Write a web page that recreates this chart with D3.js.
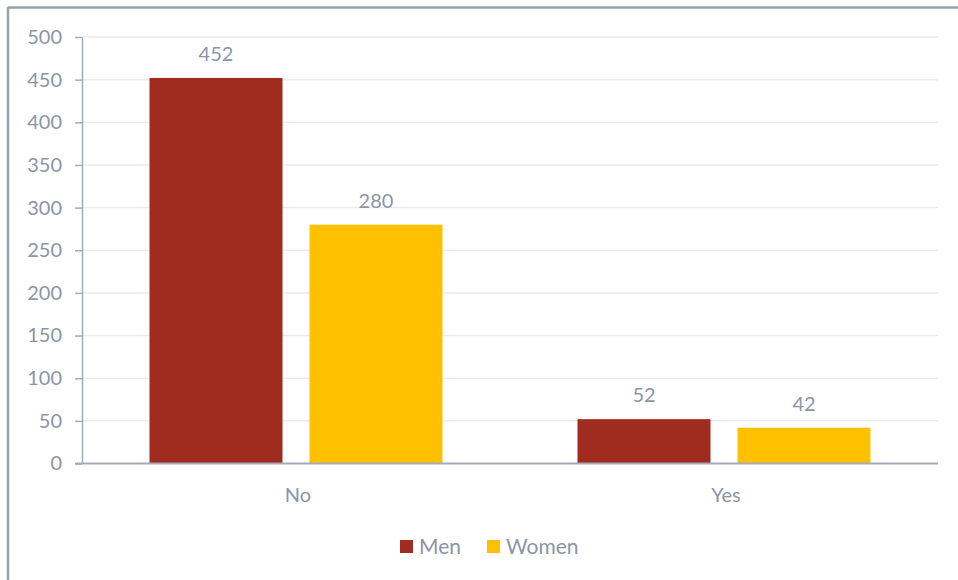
<!DOCTYPE html>
<html>
<head>
<meta charset="utf-8">
<script src="https://cdn.jsdelivr.net/npm/d3@7"></script>
<style>
  html, body { margin: 0; padding: 0; background: #fff; }
  svg { display: block; font-family: "Lato", "Open Sans", sans-serif; }
</style>
</head>
<body>
<svg id="chart" width="958" height="580"></svg>
<script>
// Answer categories and counts per gender
const categories = ["No", "Yes"];
const seriesNames = ["Men", "Women"];
const menValues = [452, 52];
const womenValues = [280, 42];
const yTicks = [0, 50, 100, 150, 200, 250, 300, 350, 400, 450, 500];

const colors = { Men: "#a02b1f", Women: "#ffc000" };
const textColor = "#8c95a5";
const axisColor = "#a3abba";

const svg = d3.select("#chart");
const W = 958, H = 580;
const margin = { left: 82, right: 20, top: 37, bottom: 116.5 };
const plotW = W - margin.left - margin.right;
const plotH = H - margin.top - margin.bottom;

// Outer frame: top and left edges
svg.append("line").attr("x1", 8).attr("x2", W).attr("y1", 7.5).attr("y2", 7.5)
  .attr("stroke", "#98a2b1").attr("stroke-width", 2.5);
svg.append("line").attr("x1", 8).attr("x2", 8).attr("y1", 7).attr("y2", H)
  .attr("stroke", "#98a2b1").attr("stroke-width", 2.5);

const g = svg.append("g").attr("transform", `translate(${margin.left},${margin.top})`);

const x0 = d3.scaleBand().domain(categories).range([0, plotW]).padding(0);
const y = d3.scaleLinear().domain([0, 500]).range([plotH, 0]);

// Gridlines
g.append("g").selectAll("line").data(yTicks.filter(t => t > 0)).join("line")
  .attr("x1", 0).attr("x2", plotW)
  .attr("y1", d => y(d)).attr("y2", d => y(d))
  .attr("stroke", "#ebebeb").attr("stroke-width", 1.5);

// Y axis
const yAxis = g.append("g")
  .call(d3.axisLeft(y).tickValues(yTicks).tickSize(7).tickPadding(13).tickSizeOuter(0));
yAxis.select(".domain").attr("stroke", axisColor).attr("stroke-width", 1.5);
yAxis.selectAll(".tick line").attr("stroke", axisColor).attr("stroke-width", 1.5);
yAxis.selectAll(".tick text").attr("fill", textColor).style("font-size", "20px")
  .style("font-family", "Lato, sans-serif");

// Bars
const rows = categories.map((c, i) => ({ cat: c, vals: [
  { key: "Men", value: menValues[i] },
  { key: "Women", value: womenValues[i] }
] }));

const barW = 133, gap = 27;
const x1 = d3.scaleOrdinal().domain(seriesNames)
  .range([-(gap / 2 + barW), gap / 2]);

const groups = g.selectAll(".cat").data(rows).join("g")
  .attr("transform", d => `translate(${x0(d.cat) + x0.bandwidth() / 2},0)`);

groups.selectAll("rect").data(d => d.vals).join("rect")
  .attr("x", d => x1(d.key)).attr("width", barW)
  .attr("y", d => y(d.value)).attr("height", d => plotH - y(d.value))
  .attr("fill", d => colors[d.key]);

groups.selectAll("text.val").data(d => d.vals).join("text")
  .attr("class", "val")
  .attr("x", d => x1(d.key) + barW / 2)
  .attr("y", d => y(d.value) - 17)
  .attr("text-anchor", "middle")
  .attr("fill", textColor).style("font-size", "20px")
  .text(d => d.value);

// X axis baseline and category labels
g.append("line").attr("x1", -7).attr("x2", plotW).attr("y1", plotH).attr("y2", plotH)
  .attr("stroke", axisColor).attr("stroke-width", 2);
g.selectAll("text.cat").data(categories).join("text")
  .attr("class", "cat")
  .attr("x", d => x0(d) + x0.bandwidth() / 2 + 2)
  .attr("y", plotH + 38)
  .attr("text-anchor", "middle")
  .attr("fill", textColor).style("font-size", "20px")
  .text(d => d);

// Legend
const legend = svg.append("g").attr("transform", "translate(400,540)");
const items = [{ key: "Men", x: 0 }, { key: "Women", x: 87 }];
const li = legend.selectAll("g").data(items).join("g")
  .attr("transform", d => `translate(${d.x},0)`);
li.append("rect").attr("width", 13).attr("height", 13).attr("fill", d => colors[d.key]);
li.append("text").attr("x", 19).attr("y", 13.5)
  .attr("fill", textColor).style("font-size", "21px").text(d => d.key);
</script>
</body>
</html>
